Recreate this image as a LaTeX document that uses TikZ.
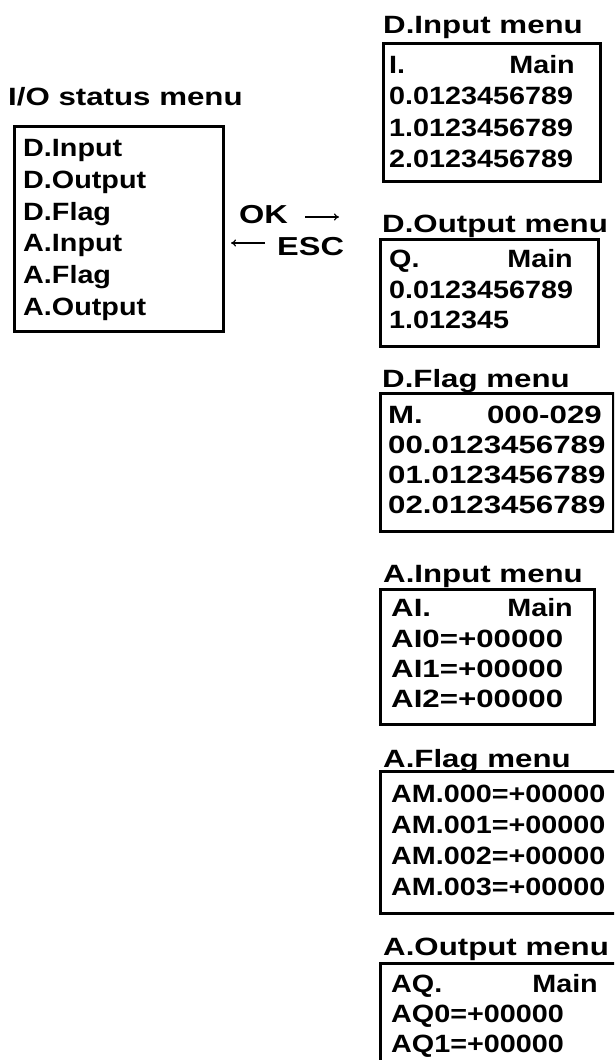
\documentclass[tikz,border=0pt]{standalone}
\usepackage{fontspec}
\setmainfont{Liberation Sans}
\newfontfamily\bodyfn{Liberation Sans}[FakeStretch=1.15]
\newfontfamily\widefn{Liberation Sans}[FakeStretch=1.25]
\usetikzlibrary{arrows.meta}
\begin{document}
\begin{tikzpicture}[x=1pt,y=-1pt,
  menubox/.style={draw=black, line width=3pt, anchor=north west, inner sep=0pt},
  ttl/.style={anchor=base west, inner sep=0pt, font={\fontsize{25pt}{30pt}\selectfont\widefn\bfseries}},
  row/.style={anchor=base west, inner sep=0pt, font={\fontsize{25pt}{30pt}\selectfont\bodyfn\bfseries}},
  rowr/.style={anchor=base east, inner sep=0pt, font={\fontsize{25pt}{30pt}\selectfont\bodyfn\bfseries}},
  wrow/.style={anchor=base west, inner sep=0pt, font={\fontsize{25pt}{30pt}\selectfont\widefn\bfseries}},
  wrowr/.style={anchor=base east, inner sep=0pt, font={\fontsize{25pt}{30pt}\selectfont\widefn\bfseries}},
  keylbl/.style={anchor=base west, inner sep=0pt, font={\fontsize{26pt}{30pt}\selectfont\widefn\bfseries}},
  keyarrow/.style={line width=1.2pt, -{To[length=5pt,width=7pt]}}]
\useasboundingbox (0,0) rectangle (614,1060);
\fill[white] (0,0) rectangle (614,1060);
\clip (0,0) rectangle (614,1060);

% ---- I/O status menu ----
\node[ttl] (iot) at (8,105) {I/O status menu};
\node[menubox, minimum width=209pt, minimum height=205pt] (iob) at (13,125) {};
\node[row] (io1) at (23,156) {D.Input};
\node[row] (io2) at (23,188) {D.Output};
\node[row] (io3) at (23,220) {D.Flag};
\node[row] (io4) at (23,251) {A.Input};
\node[row] (io5) at (23,283) {A.Flag};
\node[row] (io6) at (23,315) {A.Output};

% ---- OK / ESC ----
\node[keylbl] (ok) at (239,223) {OK};
\node[keylbl] (esc) at (277,255) {ESC};
\coordinate (okA) at (305,217);
\coordinate (okB) at (339,217);
\coordinate (escA) at (265,243);
\coordinate (escB) at (231,243);
\draw[keyarrow] (okA) -- (okB);
\draw[keyarrow] (escA) -- (escB);

% ---- D.Input menu ----
\node[ttl] (dit) at (383,33) {D.Input menu};
\node[menubox, minimum width=217pt, minimum height=138pt] (dib) at (382,42) {};
\node[row] (di0) at (389,73) {I.};
\node[rowr] (di0r) at (575,73) {Main};
\node[row] (di1) at (389,104) {0.0123456789};
\node[row] (di2) at (389,136) {1.0123456789};
\node[row] (di3) at (389,167) {2.0123456789};

% ---- D.Output menu ----
\node[ttl] (dot) at (382,232) {D.Output menu};
\node[menubox, minimum width=218pt, minimum height=107pt] (dob) at (379,238) {};
\node[row] (do0) at (389,267) {Q.};
\node[rowr] (do0r) at (573,267) {Main};
\node[row] (do1) at (389,298) {0.0123456789};
\node[row] (do2) at (389,328) {1.012345};

% ---- D.Flag menu ----
\node[ttl] (dft) at (382,387) {D.Flag menu};
\node[menubox, minimum width=233pt, minimum height=138pt] (dfb) at (379,392) {};
\node[wrow] (df0) at (388,423) {M.};
\node[wrowr] (df0r) at (602,423) {000-029};
\node[wrow] (df1) at (388,453) {00.0123456789};
\node[wrow] (df2) at (388,483) {01.0123456789};
\node[wrow] (df3) at (388,513) {02.0123456789};

% ---- A.Input menu ----
\node[ttl] (ait) at (383,582) {A.Input menu};
\node[menubox, minimum width=214pt, minimum height=135pt] (aib) at (379,588) {};
\node[wrow] (ai0) at (391,616) {AI.};
\node[rowr] (ai0r) at (573,616) {Main};
\node[wrow] (ai1) at (391,647) {AI0=+00000};
\node[wrow] (ai2) at (391,677) {AI1=+00000};
\node[wrow] (ai3) at (391,707) {AI2=+00000};

% ---- A.Flag menu ----
\node[ttl] (aft) at (383,767) {A.Flag menu};
\node[menubox, minimum width=251pt, minimum height=142pt] (afb) at (379,770) {};
\node[row] (af0) at (391,802) {AM.000=+00000};
\node[row] (af1) at (391,833) {AM.001=+00000};
\node[row] (af2) at (391,864) {AM.002=+00000};
\node[row] (af3) at (391,895) {AM.003=+00000};

% ---- A.Output menu ----
\node[ttl] (aot) at (383,955) {A.Output menu};
\node[menubox, minimum width=251pt, minimum height=118pt] (aob) at (379,962) {};
\node[row] (ao0) at (391,992) {AQ.};
\node[rowr] (ao0r) at (598,992) {Main};
\node[row] (ao1) at (391,1022) {AQ0=+00000};
\node[row] (ao2) at (391,1052) {AQ1=+00000};
\end{tikzpicture}
\end{document}
